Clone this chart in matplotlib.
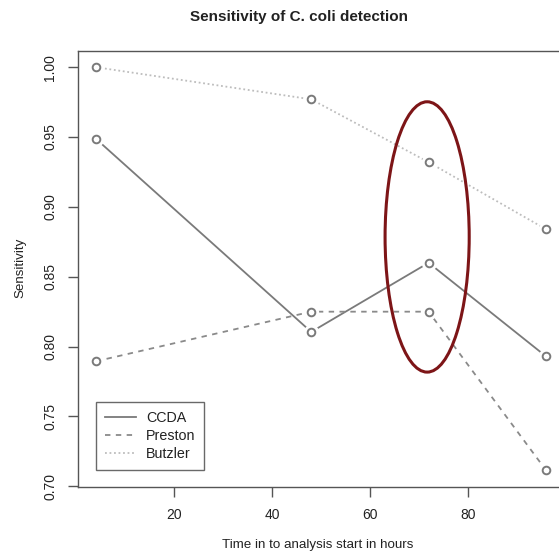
import matplotlib
matplotlib.use("Agg")
import matplotlib.pyplot as plt
from matplotlib.patches import Ellipse

plt.rcParams['font.family'] = ['Liberation Sans', 'DejaVu Sans']

hours = [4, 48, 72, 96]
ccda = [0.9487, 0.8105, 0.8600, 0.7930]
preston = [0.7895, 0.8250, 0.8250, 0.7115]
butzler = [1.0000, 0.9770, 0.9320, 0.8840]
series_names = ["CCDA", "Preston", "Butzler"]
xticks = [20, 40, 60, 80]
yticks = [0.70, 0.75, 0.80, 0.85, 0.90, 0.95, 1.00]

W, H = 559, 555
fig = plt.figure(figsize=(W / 100, H / 100), dpi=100)
ax = fig.add_axes([78 / W, 1 - 487 / H, (564 - 78) / W, (487 - 51) / H])

styles = [
    dict(color="#7a7a7a", ls="-", lw=1.3),
    dict(color="#8a8a8a", ls=(0, (3, 3)), lw=1.3),
    dict(color="#bdbdbd", ls=(0, (1, 1.5)), lw=1.3),
]
handles = []
for vals, st, name in zip([ccda, preston, butzler], styles, series_names):
    h, = ax.plot(hours, vals, color=st["color"], ls=st["ls"], lw=st["lw"], label=name, zorder=2)
    handles.append(h)
    # gap around points (type="b")
    ax.plot(hours, vals, ls="none", marker="o", ms=11, mfc="white", mec="none", zorder=3)
    ax.plot(hours, vals, ls="none", marker="o", ms=5.5, mfc="white", mec="#7a7a7a", mew=1.4, zorder=4)

ax.add_patch(Ellipse((71.7, 0.8785), 17.2, 0.1935, fill=False, ec="#7d1517", lw=2.2, zorder=5))

ax.set_xlim(0.32, 99.68)
ax.set_ylim(0.6995, 1.0116)
ax.set_xticks(xticks)
ax.set_xticklabels([str(t) for t in xticks])
ax.set_yticks(yticks)
ax.set_yticklabels([f"{t:.2f}" for t in yticks], rotation=90, va="center")
for s in ax.spines.values():
    s.set_color("#555555")
    s.set_linewidth(1.0)
ax.tick_params(axis="both", direction="out", length=7, width=1.0, color="#555555",
               labelsize=10, labelcolor="#222222", pad=8)

fig.text(299 / W, 1 - 17 / H, "Sensitivity of C. coli detection", ha="center", va="center",
         fontsize=11, fontweight="bold", color="#222222")
fig.text(318 / W, 1 - 545 / H, "Time in to analysis start in hours", ha="center", va="center",
         fontsize=9.6, color="#222222")
fig.text(20 / W, 1 - 268 / H, "Sensitivity", ha="center", va="center", rotation=90,
         fontsize=9.6, color="#222222")

leg = ax.legend(handles=handles, loc="upper left",
                bbox_to_anchor=((96 - 78) / (564 - 78), (487 - 402) / (487 - 51)),
                frameon=True, fancybox=False, fontsize=10.3, handlelength=2.2,
                borderpad=0.6, labelspacing=0.3, handletextpad=0.7, borderaxespad=0)
leg.get_frame().set_edgecolor("#444444")
leg.get_frame().set_linewidth(1.0)
for t in leg.get_texts():
    t.set_color("#222222")

fig.savefig("out.png", dpi=100)
